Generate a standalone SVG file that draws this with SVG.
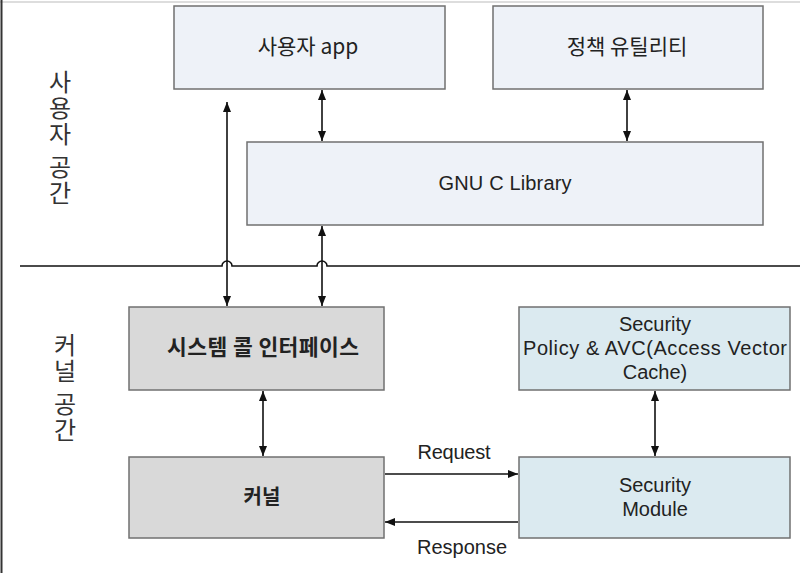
<svg xmlns="http://www.w3.org/2000/svg" width="800" height="573" viewBox="0 0 800 573">
<style>
.box{stroke:#707070;stroke-width:1.5}
.user{fill:#eef2f8}
.kern{fill:#d9d9d9}
.sec{fill:#dbeaf0}
text{font-family:"Liberation Sans","Noto Sans CJK KR",sans-serif;fill:#222;font-size:20px;text-anchor:middle}
.side{font-family:"Noto Sans CJK KR",sans-serif;font-size:24px;fill:#333;writing-mode:vertical-rl;text-anchor:start;letter-spacing:2px}
.ko{font-family:"Noto Sans CJK KR",sans-serif;font-size:21px}
.kb{font-family:"Noto Sans CJK KR",sans-serif;font-size:20px;font-weight:600}
.kb2{font-size:21.5px}
.line{stroke:#111;stroke-width:1.6;fill:none}
</style>
<defs>
<marker id="ah" viewBox="0 0 10 10" refX="10" refY="5" markerWidth="10" markerHeight="10" markerUnits="userSpaceOnUse" orient="auto-start-reverse">
<path d="M0,1 L10,5 L0,9 Z" fill="#111"/>
</marker>
</defs>
<rect x="0" y="0" width="800" height="573" fill="#fff"/>
<line x1="0" y1="2" x2="800" y2="2" stroke="#ddd" stroke-width="2"/>
<line x1="1.5" y1="0" x2="1.5" y2="573" stroke="#333" stroke-width="2"/>
<text class="side" x="60" y="70">사용자 공간</text>
<text class="side" x="65" y="333">커널 공간</text>
<g id="connectors">
<path class="line" d="M20,266 H222 a5,5 0 0 1 10,0 H317 a5,5 0 0 1 10,0 H800"/>
<line class="line" x1="227" y1="102" x2="227" y2="306" marker-start="url(#ah)" marker-end="url(#ah)"/>
<line class="line" x1="322" y1="90" x2="322" y2="141" marker-start="url(#ah)" marker-end="url(#ah)"/>
<line class="line" x1="322" y1="226" x2="322" y2="306" marker-start="url(#ah)" marker-end="url(#ah)"/>
<line class="line" x1="627" y1="90" x2="627" y2="141" marker-start="url(#ah)" marker-end="url(#ah)"/>
<line class="line" x1="263" y1="391" x2="263" y2="456" marker-start="url(#ah)" marker-end="url(#ah)"/>
<line class="line" x1="655" y1="391" x2="655" y2="456" marker-start="url(#ah)" marker-end="url(#ah)"/>
<line class="line" x1="385" y1="474" x2="518" y2="474" marker-end="url(#ah)"/>
<line class="line" x1="518" y1="522" x2="385" y2="522" marker-end="url(#ah)"/>
<text x="454" y="459" textLength="73">Request</text>
<text x="462" y="554" textLength="90">Response</text>
</g>
<g id="user-app"><rect class="box user" x="174" y="6" width="271" height="83"/><text class="ko" x="308" y="54">사용자 app</text></g>
<g id="policy-util"><rect class="box user" x="493" y="6" width="270" height="83"/><text class="ko" x="627" y="54">정책 유틸리티</text></g>
<g id="glibc"><rect class="box user" x="247" y="142" width="516" height="83"/><text x="505" y="190" textLength="133">GNU C Library</text></g>
<g id="syscall"><rect class="box kern" x="129" y="307" width="255" height="83"/><text class="kb kb2" x="263" y="355" textLength="192">시스템 콜 인터페이스</text></g>
<g id="kernel"><rect class="box kern" x="129" y="457" width="255" height="81"/><text class="kb" x="262" y="504">커널</text></g>
<g id="sec-policy"><rect class="box sec" x="519" y="307" width="271" height="83"/><text x="655" y="331">Security</text><text x="655" y="355" textLength="264">Policy &amp; AVC(Access Vector</text><text x="655" y="379">Cache)</text></g>
<g id="sec-module"><rect class="box sec" x="519" y="457" width="271" height="81"/><text x="655" y="492">Security</text><text x="655" y="516">Module</text></g>
</svg>
